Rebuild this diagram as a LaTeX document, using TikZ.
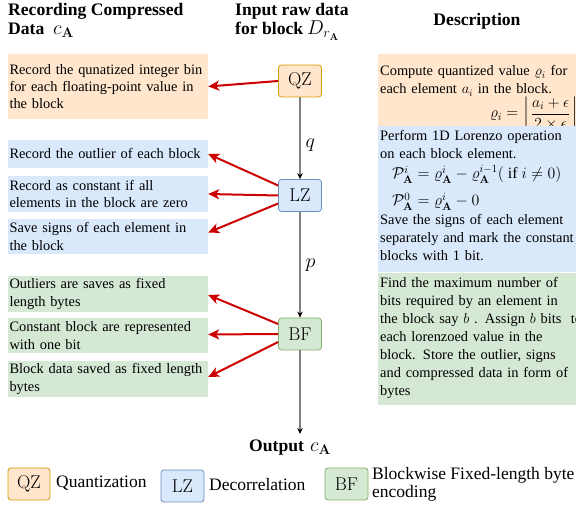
\RequirePackage{fix-cm}
\documentclass[tikz,border=0pt]{standalone}
\usepackage{amsmath}
\usepackage[no-math]{fontspec}
\setmainfont{Liberation Serif}
\newfontfamily\lmr{Latin Modern Roman}
\usetikzlibrary{arrows.meta}

\definecolor{orfill}{HTML}{FFE6CC}
\definecolor{ordraw}{HTML}{D79B00}
\definecolor{blfill}{HTML}{DAE8FC}
\definecolor{bldraw}{HTML}{6C8EBF}
\definecolor{grfill}{HTML}{D5E8D4}
\definecolor{grdraw}{HTML}{82B366}
\definecolor{arrred}{HTML}{CC0000}
\definecolor{flowgray}{HTML}{808080}

\newcommand\notefont{\fontsize{14.4}{17.4}\selectfont}
\newcommand\descfont{\fontsize{14.4}{18}\selectfont}
\newcommand\headfont{\fontsize{17.6}{19.5}\selectfont\bfseries}
\newcommand\legfont{\fontsize{17.5}{17.5}\selectfont}
\newcommand\stagefont{\lmr\fontsize{18.5}{20}\selectfont}

\tikzset{
  stage/.style={draw, rounded corners=3pt, line width=0.8pt, minimum width=43pt,
    minimum height=32pt, inner sep=0pt, font=\stagefont},
  qzstage/.style={stage, fill=orfill, draw=ordraw},
  lzstage/.style={stage, fill=blfill, draw=bldraw},
  bfstage/.style={stage, fill=grfill, draw=grdraw},
  notebox/.style={minimum width=200pt, inner sep=0pt},
  notetext/.style={font=\notefont, text width=240pt, align=left, inner xsep=1.5pt,
    inner ysep=0pt, anchor=west},
  panel/.style={anchor=north west, minimum width=198pt, inner sep=0pt},
  desc/.style={font=\descfont, text width=260pt, align=left, inner sep=0pt,
    anchor=base west},
  formula/.style={inner sep=0pt, font=\fontsize{15.8}{18}\selectfont},
  head/.style={font=\headfont, inner sep=0pt},
  headmath/.style={font=\fontsize{20}{22}\selectfont, inner sep=0pt},
  legtext/.style={font=\legfont, inner sep=0pt, anchor=base west},
  flow/.style={draw=flowgray, line width=1.2pt,
    -{Stealth[length=6pt, width=5.5pt, color=black]}},
  outarrow/.style={draw=arrred, line width=2pt,
    -{Stealth[length=11pt, width=10pt, inset=3pt]}},
  edgelbl/.style={font=\fontsize{20}{22}\selectfont, inner sep=0pt}
}

\begin{document}
\begin{tikzpicture}[x=1pt, y=-1pt]
\useasboundingbox (0,0) rectangle (576,510);

% column headings
\node[head, anchor=base west] (hrec) at (8,16) {Recording Compressed};
\node[head, anchor=base west] (hdata) at (8,35) {Data};
\node[headmath, anchor=base west] (hdatam) at (53,35) {$c_{\mathbf{A}}$};
\node[head, anchor=base west] (hin) at (235,16) {Input raw data};
\node[head, anchor=base west] (hblk) at (235,35) {for block};
\node[headmath, anchor=base west] (hblkm) at (307,35) {$D_{r_{\mathbf{A}}}$};
\node[head, anchor=base] (hdesc) at (477,26) {Description};

% description panels
\node[panel, fill=orfill, minimum height=72pt] (dq) at (378,54) {};
\node[desc] (tq) at (380,76) {Compute quantized value $\varrho_i$ for\\
  each element $a_i$ in the block.};
\node[formula, font=\fontsize{15.5}{18}\selectfont, anchor=base east] (fq) at (579,118)
  {$\displaystyle \varrho_i=\left\lfloor\frac{a_i+\epsilon}{2\times\epsilon}\right\rfloor$};

\node[panel, fill=blfill, minimum height=146pt] (dl) at (378,126) {};
\node[desc] (tl1) at (380,141) {Perform 1D Lorenzo operation\\
  on each block element.};
\node[formula, anchor=base west] (fl1) at (392,179)
  {$\mathcal{P}^{i}_{\mathbf{A}}=\varrho^{i}_{\mathbf{A}}-\varrho^{i-1}_{\mathbf{A}}(\mbox{ if }i\neq 0)$};
\node[formula, anchor=base west] (fl2) at (392,206)
  {$\mathcal{P}^{0}_{\mathbf{A}}=\varrho^{i}_{\mathbf{A}}-0$};
\node[desc] (tl2) at (380,225) {Save the signs of each element\\
  separately and mark the constant\\
  blocks with 1 bit.};

\node[panel, fill=grfill, minimum height=132pt] (db) at (378,273) {};
\node[desc] (tb) at (380,288) {Find the maximum number of\\
  bits required by an element in\\
  the block say $b$ . Assign $b$ bits~ to\\
  each lorenzoed value in the\\
  block. Store the outlier, signs\\
  and compressed data in form of\\
  bytes};

% recorded outputs
\node[notebox, fill=orfill, minimum height=65pt] (rq) at (108,86.5) {};
\node[notetext] (rqt) at (rq.west)
  {Record the qunatized integer bin\\ for each floating-point value in\\ the block};
\node[notebox, fill=blfill, minimum height=28pt] (rl1) at (108,154) {};
\node[notetext] (rl1t) at (rl1.west) {Record the outlier of each block};
\node[notebox, fill=blfill, minimum height=36pt] (rl2) at (108,194) {};
\node[notetext] (rl2t) at (rl2.west)
  {Record as constant if all\\ elements in the block are zero};
\node[notebox, fill=blfill, minimum height=35pt] (rl3) at (108,236.5) {};
\node[notetext] (rl3t) at (rl3.west) {Save signs of each element in\\ the block};
\node[notebox, fill=grfill, minimum height=36pt] (rb1) at (108,294) {};
\node[notetext] (rb1t) at (rb1.west) {Outliers are saves as fixed\\ length bytes};
\node[notebox, fill=grfill, minimum height=35pt] (rb2) at (108,335.5) {};
\node[notetext] (rb2t) at (rb2.west)
  {Constant block are represented\\ with one bit};
\node[notebox, fill=grfill, minimum height=36pt] (rb3) at (108,379) {};
\node[notetext] (rb3t) at (rb3.west)
  {Block data saved as fixed length\\ bytes};

% pipeline stages
\node[qzstage] (qz) at (300,81) {QZ};
\node[lzstage] (lz) at (300,195.5) {LZ};
\node[bfstage] (bf) at (300,334) {BF};
\coordinate (outend) at (300,434);

\draw[flow] (qz) -- node[edgelbl, right=5pt, pos=0.58] (ql) {$q$} (lz);
\draw[flow] (lz) -- node[edgelbl, right=5pt, pos=0.5] (pl) {$p$} (bf);
\draw[flow] (bf) -- (outend);
\node[head, anchor=base west] (outl) at (249,452) {Output};
\node[headmath, anchor=base west] (outm) at (310,452) {$c_{\mathbf{A}}$};

% stage to record arrows
\draw[outarrow] (qz.west) -- (rq.east);
\draw[outarrow] ([yshift=10pt]lz.west) -- (rl1.east);
\draw[outarrow] (lz.west) -- (rl2.east);
\draw[outarrow] ([yshift=-8pt]lz.west) -- ([yshift=4pt]rl3.east);
\draw[outarrow] ([yshift=10pt]bf.west) -- ([yshift=-1pt]rb1.east);
\draw[outarrow] (bf.west) -- ([yshift=1pt]rb2.east);
\draw[outarrow] ([yshift=-8pt]bf.west) -- ([yshift=2pt]rb3.east);

% legend
\node[qzstage, minimum width=42pt] (lgq) at (29,484) {QZ};
\node[legtext] (lgqt) at (56,488) {Quantization};
\node[lzstage, minimum width=43pt] (lgl) at (182.5,486) {LZ};
\node[legtext] (lglt) at (209,491) {Decorrelation};
\node[bfstage, minimum width=43pt] (lgb) at (346.5,484) {BF};
\node[legtext] (lgbt) at (372,480) {Blockwise Fixed-length byte};
\node[legtext] (lgbt2) at (372,498) {encoding};
\end{tikzpicture}
\end{document}
